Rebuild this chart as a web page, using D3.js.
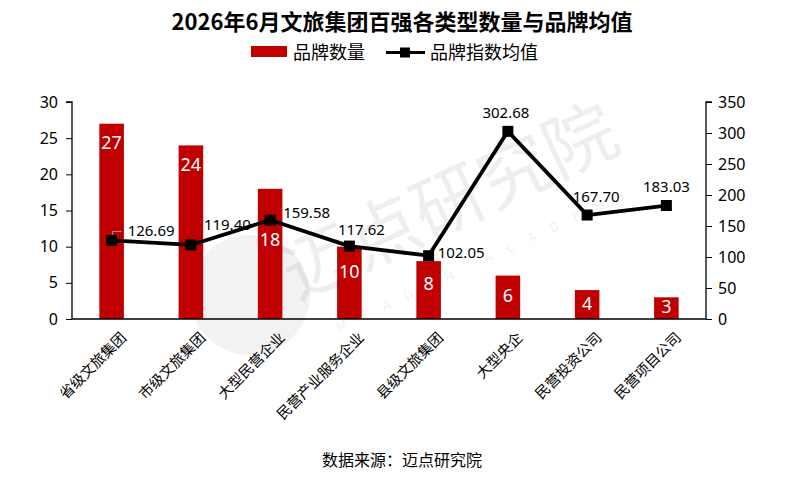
<!DOCTYPE html>
<html><head><meta charset="utf-8">
<script src="https://cdn.jsdelivr.net/npm/d3@7/dist/d3.min.js"></script>
<style>body{margin:0;background:#fff}svg{display:block;font-family:"Noto Sans CJK SC","Noto Sans",sans-serif;-webkit-font-smoothing:antialiased}</style>
</head><body><svg id="c" width="800" height="487"></svg>
<script>
const categories = ["省级文旅集团","市级文旅集团","大型民营企业","民营产业服务企业","县级文旅集团","大型央企","民营投资公司","民营项目公司"];
const counts = [27,24,18,10,8,6,4,3];
const indexAvg = [126.69,119.40,159.58,117.62,102.05,302.68,167.70,183.03];
const leftTicks = [0,5,10,15,20,25,30];
const rightTicks = [0,50,100,150,200,250,300,350];
// line label placement: dx, baseline dy, anchor
const labelPos = [[16,-4,"start"],[13,-15,"start"],[13,-2,"start"],[12,-11,"middle"],[9,2,"start"],[-2,-13,"middle"],[9,-13,"middle"],[0,-14,"middle"]];
// bar label baseline offset below bar top
const barLabelDy = [25.5,26,57.5,31.5,28.5,26.5,19.5,16];

const svg = d3.select("#c");
const L = 72, R = 706, T = 102, B = 319;
const x = d3.scaleBand().domain(categories).range([L,R]).paddingInner(0.69).paddingOuter(0.345);
const yL = d3.scaleLinear().domain([0,30]).range([B,T]);
const yR = d3.scaleLinear().domain([0,350]).range([B,T]);

// watermark
const wm = svg.append("g").attr("fill","#666").attr("fill-opacity",0.11);
wm.append("circle").attr("cx",250).attr("cy",295).attr("r",60).attr("fill","#888");
wm.append("text").attr("transform","translate(460,225) rotate(-25)").attr("text-anchor","middle")
  .attr("font-size",72).text("迈点研究院");
wm.append("text").attr("transform","translate(490,262) rotate(-25)").attr("text-anchor","middle")
  .attr("font-size",13).attr("letter-spacing",16).text("MEADIN ACADEMY");

// title
svg.append("text").attr("x",402).attr("y",30).attr("text-anchor","middle").attr("font-size",22)
  .attr("font-weight","bold").attr("fill","#000").text("2026年6月文旅集团百强各类型数量与品牌均值");
// legend
const lg = svg.append("g").attr("font-size",18).attr("fill","#000");
lg.append("rect").attr("x",251).attr("y",46).attr("width",36).attr("height",11).attr("fill","#C00000");
lg.append("text").attr("x",293).attr("y",59).text("品牌数量");
lg.append("line").attr("x1",386).attr("x2",425).attr("y1",52.5).attr("y2",52.5).attr("stroke","#000").attr("stroke-width",3);
lg.append("rect").attr("x",400).attr("y",47.5).attr("width",10).attr("height",10).attr("fill","#000");
lg.append("text").attr("x",430).attr("y",59).text("品牌指数均值");

// axes
const axL = svg.append("g").attr("transform",`translate(${L},0)`)
  .call(d3.axisLeft(yL).tickValues(leftTicks).tickSize(6).tickPadding(8));
const axR = svg.append("g").attr("transform",`translate(${R},0)`)
  .call(d3.axisRight(yR).tickValues(rightTicks).tickSize(6).tickPadding(6));
[axL,axR].forEach(a=>{a.select(".domain").attr("stroke","#000").attr("stroke-width",1.3);
  a.selectAll(".tick line").attr("stroke","#000");
  a.selectAll("text").attr("font-size",16).attr("fill","#000").attr("font-family","'Noto Sans','Noto Sans CJK SC',sans-serif");});
axL.select(".domain").attr("d",`M-6,${T}H0V${B}`);
axR.select(".domain").attr("d",`M6,${T}H0V${B}`);

// bars
svg.append("g").selectAll("rect").data(counts).join("rect")
  .attr("x",(d,i)=>x(categories[i])).attr("width",x.bandwidth())
  .attr("y",d=>yL(d)).attr("height",d=>B-yL(d)).attr("fill","#C00000");

// baseline axis
const axB = svg.append("g").attr("transform",`translate(0,${B})`).call(d3.axisBottom(x).tickSize(0).tickPadding(0));
axB.select(".domain").attr("stroke","#000").attr("stroke-width",1.3).attr("d",`M${L},0H${R}`);
axB.selectAll("text").attr("font-size",14.5).attr("fill","#000").attr("text-anchor","end")
  .attr("transform","translate(12,16) rotate(-45)").attr("dy","0.35em").attr("y",0)
  .attr("font-family","'Noto Sans CJK SC',sans-serif");

// line
const cx = i => x(categories[i]) + x.bandwidth()/2;
svg.append("path").attr("fill","none").attr("stroke","#999").attr("stroke-width",1)
  .attr("d",`M${cx(0)+1},${yR(indexAvg[0])-3}V${yR(indexAvg[0])-9}H${cx(0)+10}`);
svg.append("path").datum(indexAvg).attr("fill","none").attr("stroke","#000").attr("stroke-width",3.8)
  .attr("stroke-linejoin","round")
  .attr("d",d3.line().x((d,i)=>cx(i)).y(d=>yR(d)));
svg.append("g").selectAll("rect").data(indexAvg).join("rect")
  .attr("x",(d,i)=>cx(i)-5.5).attr("y",d=>yR(d)-5.5).attr("width",11).attr("height",11).attr("fill","#000");
svg.append("g").selectAll("text").data(indexAvg).join("text")
  .attr("x",(d,i)=>cx(i)+labelPos[i][0]).attr("y",(d,i)=>yR(d)+labelPos[i][1])
  .attr("text-anchor",(d,i)=>labelPos[i][2]).attr("font-size",15).attr("fill","#000")
  .attr("font-family","'Noto Sans',sans-serif").text(d=>d.toFixed(2));

// bar labels
svg.append("g").selectAll("text").data(counts).join("text")
  .attr("x",(d,i)=>x(categories[i])+x.bandwidth()/2).attr("y",(d,i)=>yL(d)+barLabelDy[i])
  .attr("text-anchor","middle").attr("font-size",18).attr("fill","#fff")
  .attr("font-family","'Noto Sans',sans-serif").text(d=>d);

// source
svg.append("text").attr("x",402).attr("y",466).attr("text-anchor","middle").attr("font-size",16)
  .attr("fill","#000").text("数据来源：迈点研究院");
</script></body></html>
